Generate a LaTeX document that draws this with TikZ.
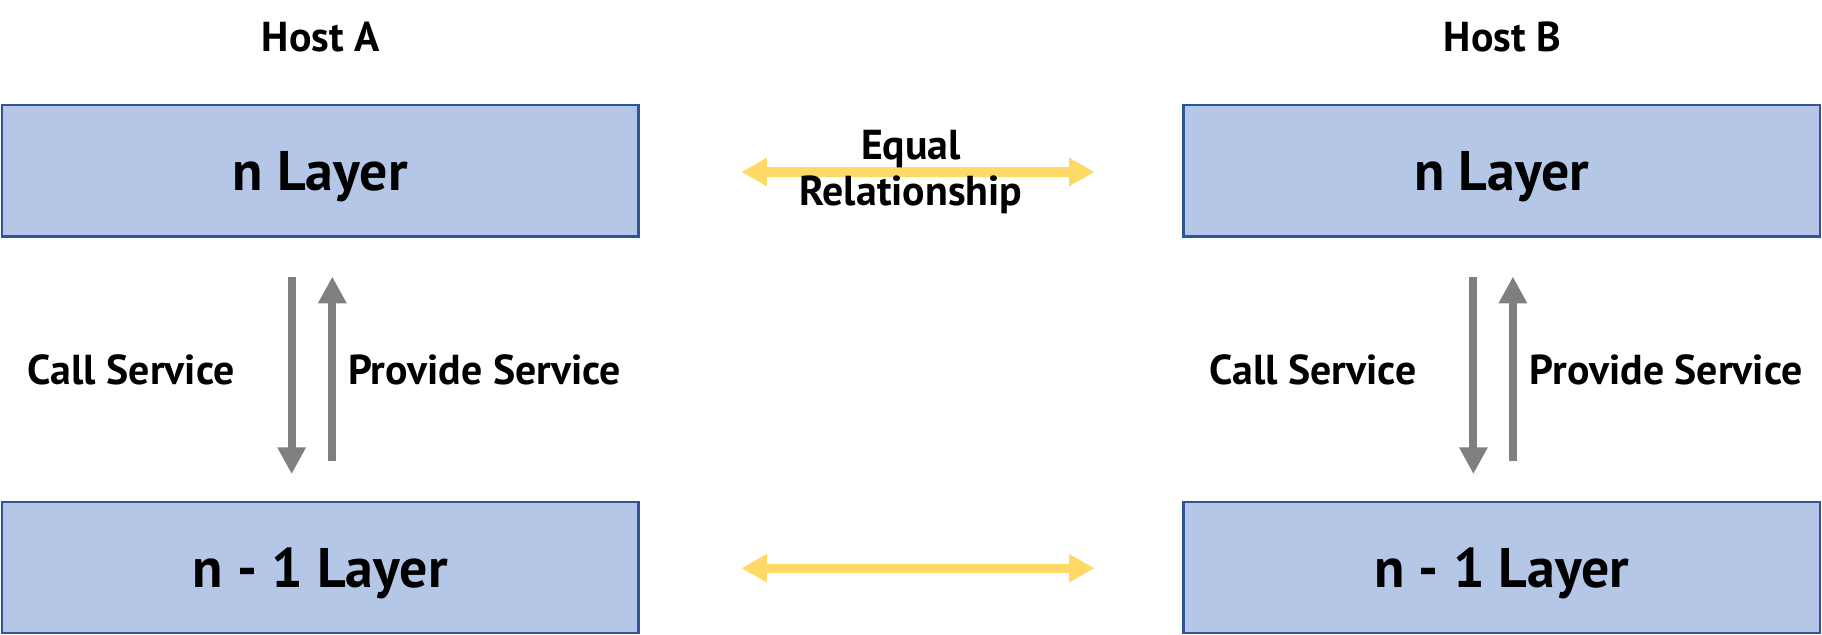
\documentclass[tikz,border=0pt]{standalone}
\usepackage{fontspec}
\setmainfont{PT Sans}
\usetikzlibrary{arrows.meta}
\definecolor{boxfill}{HTML}{B4C7E7}
\definecolor{boxline}{HTML}{2F5597}
\definecolor{gold}{HTML}{FFD966}
\definecolor{arrgray}{HTML}{7F7F7F}
\begin{document}
\begin{tikzpicture}[x=1pt,y=-1pt,
  layerbox/.style={draw=boxline,fill=boxfill,line width=2pt,minimum width=548pt,minimum height=113pt,inner sep=0pt,text depth=0pt,font=\fontsize{48}{56}\selectfont\bfseries},
  lbl/.style={inner sep=0pt,font=\fontsize{36}{39}\selectfont\bfseries},
  peer/.style={draw=gold,line width=8pt,{Triangle[length=22pt,width=23pt]}-{Triangle[length=22pt,width=23pt]}},
  svc/.style={draw=arrgray,line width=7pt,-{Triangle[length=23pt,width=23pt]}}]
\useasboundingbox (0,0) rectangle (1568,546);
% boxes
\node[layerbox] (An) at (275.5,147) {n Layer};
\node[layerbox] (A1) at (275.5,488.5) {n - 1 Layer};
\node[layerbox] (Bn) at (1292.5,147) {n Layer};
\node[layerbox] (B1) at (1292.5,488.5) {n - 1 Layer};
% host titles
\node[lbl] (hA) at (276,32) {Host A};
\node[lbl] (hB) at (1293,32) {Host B};
% peer arrows
\coordinate (p1l) at (638,148);
\coordinate (p1r) at (942,148);
\coordinate (p2l) at (638,489);
\coordinate (p2r) at (942,489);
\draw[peer] (p1l) -- (p1r);
\draw[peer] (p2l) -- (p2r);
\node[lbl,align=center] (eq) at (784,148) {Equal\\Relationship};
% service arrows host A
\coordinate (Ad1) at (251,238);
\coordinate (Ad2) at (251,408);
\coordinate (Au1) at (286,397);
\coordinate (Au2) at (286,238);
\draw[svc] (Ad1) -- (Ad2);
\draw[svc] (Au1) -- (Au2);
\node[lbl] (cA) at (113,318) {Call Service};
\node[lbl] (pA) at (417,318) {Provide Service};
% service arrows host B
\coordinate (Bd1) at (1268,238);
\coordinate (Bd2) at (1268,408);
\coordinate (Bu1) at (1302,397);
\coordinate (Bu2) at (1302,238);
\draw[svc] (Bd1) -- (Bd2);
\draw[svc] (Bu1) -- (Bu2);
\node[lbl] (cB) at (1130,318) {Call Service};
\node[lbl] (pB) at (1434,318) {Provide Service};
\end{tikzpicture}
\end{document}
